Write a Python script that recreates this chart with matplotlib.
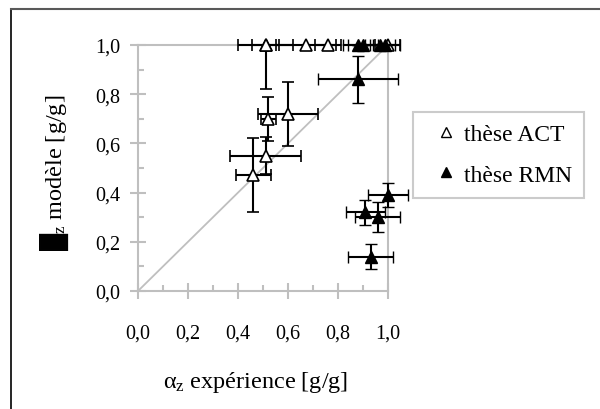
import matplotlib
matplotlib.use("Agg")
import matplotlib.pyplot as plt
from matplotlib.lines import Line2D
import numpy as np

# ---- data ----
x_act = [0.51, 0.51, 0.67, 0.76, 1.00, 0.52, 0.60, 0.51, 0.46]
y_act = [1.00, 1.00, 1.00, 1.00, 1.00, 0.70, 0.72, 0.55, 0.47]
xerr_act = [0.11, 0.055, 0.12, 0.05, 0.05, 0.03, 0.12, 0.14, 0.07]
yerr_act_lo = [0.18, 0.0, 0.0, 0.0, 0.0, 0.09, 0.13, 0.075, 0.15]
yerr_act_hi = [0.0, 0.0, 0.0, 0.0, 0.0, 0.09, 0.13, 0.075, 0.15]

x_rmn = [0.88, 0.90, 0.97, 0.99, 0.88, 1.00, 0.91, 0.96, 0.93]
y_rmn = [1.00, 1.00, 1.00, 1.00, 0.86, 0.39, 0.32, 0.30, 0.14]
xerr_rmn = [0.06, 0.06, 0.06, 0.06, 0.16, 0.08, 0.08, 0.09, 0.09]
yerr_rmn = [0.0, 0.0, 0.0, 0.0, 0.095, 0.05, 0.05, 0.06, 0.05]

ticks = [0.0, 0.2, 0.4, 0.6, 0.8, 1.0]
tick_labels = ["0,0", "0,2", "0,4", "0,6", "0,8", "1,0"]
series_names = ["thèse ACT", "thèse RMN"]

plt.rcParams['font.family'] = ['Liberation Serif', 'DejaVu Sans']
plt.rcParams['mathtext.fontset'] = 'custom'
plt.rcParams['mathtext.rm'] = 'Liberation Serif'
plt.rcParams['mathtext.it'] = 'Liberation Serif'

W, H = 600, 410
fig = plt.figure(figsize=(6, 4.1), dpi=100)

def fx(px):
    return px / W

def fy(py):
    return 1 - py / H

ax = fig.add_axes([fx(138), fy(292), fx(388) - fx(138), fy(46) - fy(292)])
grey = "#BFBFBF"

ax.plot([0, 1], [0, 1], color=grey, lw=1.3, zorder=1)

ax.errorbar(x_act, y_act, xerr=xerr_act, yerr=[yerr_act_lo, yerr_act_hi],
            fmt='^', mfc='white', mec='black', mew=1.2, ms=9,
            ecolor='black', elinewidth=1.5, capsize=4.3, capthick=1.5,
            clip_on=False, zorder=3)
ax.errorbar(x_rmn, y_rmn, xerr=xerr_rmn, yerr=yerr_rmn,
            fmt='^', mfc='black', mec='black', mew=1.0, ms=9,
            ecolor='black', elinewidth=1.5, capsize=4.3, capthick=1.5,
            clip_on=False, zorder=4)
for art in ax.get_children():
    try:
        art.set_clip_on(False)
    except Exception:
        pass

ax.set_xlim(0, 1)
ax.set_ylim(0, 1)
for s in ax.spines.values():
    s.set_color(grey)
    s.set_linewidth(1.5)
ax.set_xticks(ticks)
ax.set_xticklabels(tick_labels)
ax.set_yticks(ticks)
ax.set_yticklabels(tick_labels)
ax.set_xticks(np.arange(0.1, 1.0, 0.2), minor=True)
ax.set_yticks(np.arange(0.1, 1.0, 0.2), minor=True)
ax.tick_params(which='major', direction='inout', length=11, width=1.5, color=grey,
               labelsize=14.5, labelcolor='black')
ax.tick_params(which='minor', direction='in', length=4.5, width=1.5, color=grey)
ax.tick_params(axis='x', which='major', pad=18)
ax.tick_params(axis='y', which='major', pad=7)

# axis labels
fig.text(fx(163), fy(388), r"$\alpha_z$ expérience [g/g]", fontsize=17.5,
         ha='left', va='baseline')
fig.text(fx(55), fy(251), "\u2588$_z$ modèle [g/g]", rotation=90, fontsize=17.5,
         ha='center', va='bottom')

# legend
handles = [Line2D([], [], marker='^', ls='none', mfc='white', mec='black', mew=1.0, ms=7),
           Line2D([], [], marker='^', ls='none', mfc='black', mec='black', mew=1.0, ms=7)]
leg = fig.legend(handles, series_names, loc='upper left',
                 bbox_to_anchor=(fx(413), fy(113)), bbox_transform=fig.transFigure,
                 fontsize=17, frameon=True, fancybox=False, borderpad=0.5,
                 handlelength=1.8, handletextpad=-0.15, labelspacing=0.8,
                 borderaxespad=0)
leg.get_frame().set_edgecolor(grey)
leg.get_frame().set_linewidth(1.5)

# outer border (left and top)
fig.add_artist(Line2D([fx(11), fx(11)], [fy(10), 0], color='black', lw=1.2))
fig.add_artist(Line2D([fx(11), 1], [fy(10), fy(10)], color='#595959', lw=1.5))

fig.savefig("out.png", dpi=100)
